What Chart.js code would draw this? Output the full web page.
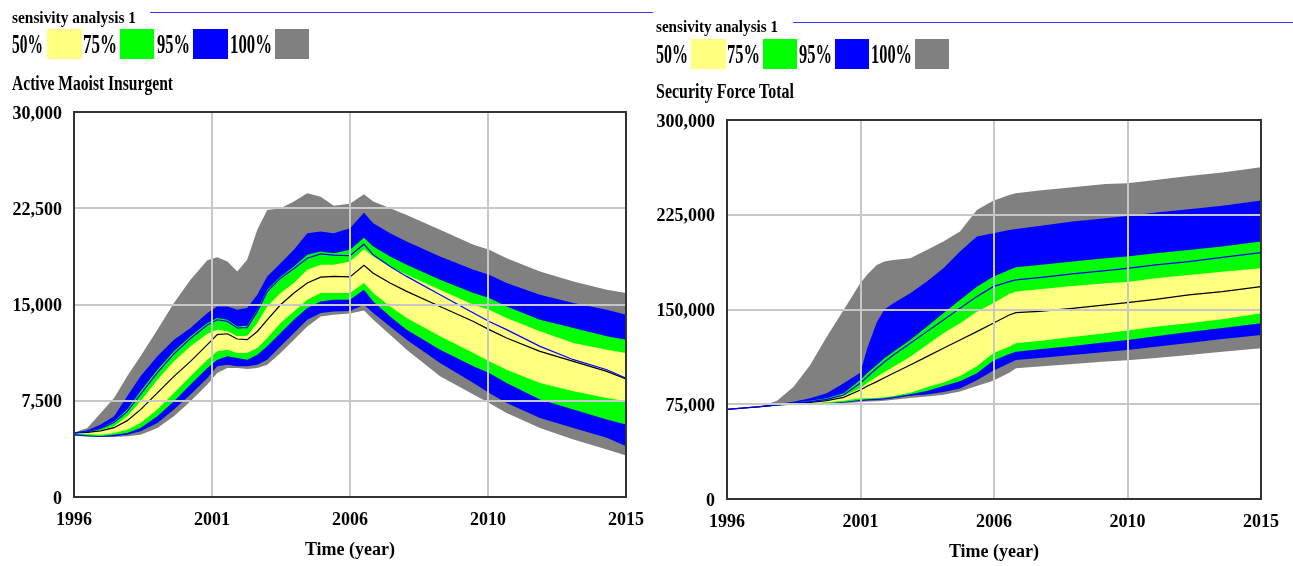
<!DOCTYPE html>
<html><head><meta charset="utf-8">
<script src="https://cdn.jsdelivr.net/npm/chart.js@4.4.1/dist/chart.umd.min.js"></script>
<style>
html,body{margin:0;padding:0;background:#fff;}
#wrap{position:relative;width:1293px;height:566px;overflow:hidden;background:#fff;}
canvas{position:absolute;top:0;}
.t{position:absolute;white-space:nowrap;font-family:"Liberation Serif","Times New Roman",serif;font-weight:bold;color:#000;transform-origin:0 0;line-height:1;}
.sw{position:absolute;}
.hl{position:absolute;height:1px;background:#3a3aff;}
</style></head><body>
<div id="wrap">
<canvas id="c1" width="660" height="566" style="left:0;width:660px;height:566px"></canvas>
<canvas id="c2" width="647" height="566" style="left:646px;width:647px;height:566px"></canvas>
</div>
<script>
// ---------- data: Active Maoist Insurgent ----------
const timeL = [1996, 1996.46, 1996.92, 1997.38, 1997.83, 1998.29, 1998.87, 1999.44, 2000.01, 2000.59, 2000.93, 2001.28, 2001.62, 2001.96, 2002.31, 2002.65, 2003.11, 2003.57, 2004.03, 2004.49, 2004.94, 2005.5, 2005.98, 2006.3, 2006.88, 2007.45, 2008.6, 2009.75, 2010.29, 2010.89, 2012.04, 2013.19, 2014.34, 2015];
const grayHiL = [5000, 5380, 6550, 7720, 9400, 10960, 13040, 15110, 16930, 18450, 18690, 18350, 17570, 18480, 20820, 22370, 22500, 23020, 23670, 23400, 22700, 22850, 23600, 23020, 22500, 21980, 20820, 19650, 19260, 18610, 17570, 16800, 16150, 15890];
const blueHiL = [5000, 5200, 5640, 6290, 7850, 9400, 10960, 12260, 13170, 14330, 14850, 14850, 14590, 14720, 15760, 17190, 18220, 19260, 20560, 20690, 20560, 20950, 22150, 21340, 20560, 19910, 18740, 17700, 17320, 16670, 15760, 15110, 14590, 14200];
const greenHiL = [5000, 5120, 5380, 5900, 6810, 8240, 9920, 11350, 12520, 13550, 13940, 13810, 13290, 13350, 14590, 16150, 17190, 17960, 18870, 19130, 19000, 19260, 20200, 19520, 18740, 18090, 16930, 15890, 15500, 14850, 13810, 13170, 12520, 12260];
const yellowHiL = [5000, 5080, 5200, 5510, 6290, 7460, 9140, 10570, 11740, 12720, 13040, 12910, 12520, 12570, 13550, 14850, 15890, 16670, 17700, 18090, 18090, 18350, 19300, 18740, 17960, 17320, 16150, 14980, 14590, 13940, 12910, 12000, 11480, 11220];
const medianL = [5000, 5040, 5150, 5400, 5950, 6810, 8110, 9400, 10570, 11870, 12650, 12720, 12310, 12260, 12900, 13810, 14980, 15890, 16670, 17130, 17190, 17150, 18050, 17440, 16670, 16020, 14850, 13680, 13040, 12390, 11350, 10570, 9790, 9200];
const baseL = [5000, 5100, 5350, 5800, 6650, 8000, 9700, 11150, 12350, 13400, 13810, 13680, 13170, 13200, 14460, 16000, 17050, 17800, 18610, 18950, 18850, 18800, 19700, 18870, 17960, 17190, 15760, 14330, 13680, 13040, 11740, 10700, 9920, 9270];
const yellowLoL = [4940, 4900, 4860, 4990, 5250, 5770, 6810, 8110, 9400, 10700, 11350, 11480, 11220, 11220, 11610, 12390, 13550, 14460, 15370, 15890, 15890, 15890, 16670, 15890, 14850, 13940, 12520, 11220, 10570, 9920, 8890, 8240, 7720, 7460];
const greenLoL = [4900, 4800, 4730, 4860, 4990, 5380, 6290, 7460, 8760, 10050, 10700, 10960, 10830, 10700, 11090, 11740, 12780, 13810, 14720, 15240, 15370, 15370, 16150, 15240, 14070, 13040, 11480, 10180, 9660, 8890, 7590, 6810, 6030, 5640];
const blueLoL = [4790, 4730, 4680, 4730, 4860, 5120, 5770, 6810, 7980, 9270, 10180, 10310, 10180, 10180, 10310, 10700, 11740, 12780, 13810, 14330, 14460, 14500, 14980, 14330, 13290, 12260, 10440, 8890, 8110, 7330, 6160, 5380, 4610, 3960];
const grayLoL = [4790, 4700, 4680, 4680, 4730, 4860, 5380, 6290, 7460, 8760, 9660, 10050, 10050, 9970, 10050, 10310, 11220, 12260, 13290, 14070, 14200, 14300, 14540, 13810, 12650, 11480, 9400, 7980, 7330, 6550, 5380, 4480, 3700, 3230];

// ---------- data: Security Force Total ----------
const timeR = [1996, 1997.18, 1997.78, 1998.37, 1998.96, 1999.55, 2000.15, 2000.74, 2001.0, 2001.33, 2001.6, 2001.92, 2002.52, 2003.11, 2003.7, 2004.29, 2004.89, 2005.47, 2006.04, 2006.28, 2007.11, 2008.29, 2009.47, 2010.24, 2011.25, 2012.43, 2013.62, 2015];
const grayHiR = [71000, 73100, 77850, 88930, 106090, 128520, 149630, 170740, 178000, 185260, 188000, 189220, 190540, 197130, 203730, 211650, 228800, 236000, 240680, 242000, 244110, 246750, 249390, 249910, 252550, 255720, 258360, 262580];
const blueHiR = [71000, 73100, 75210, 77060, 79700, 83660, 91570, 100000, 120000, 140000, 150000, 155000, 162830, 172070, 182630, 195820, 207700, 210330, 212970, 213760, 216140, 219570, 222200, 224050, 226700, 229300, 232200, 236190];
const greenHiR = [71000, 73100, 74700, 76270, 77850, 79700, 83660, 94210, 100000, 106090, 111500, 116640, 125880, 136430, 146990, 157540, 168100, 176020, 181300, 183410, 185260, 187900, 190540, 191860, 194500, 197130, 199770, 203730];
const yellowHiR = [71000, 73100, 74500, 76000, 77060, 78380, 81550, 87610, 92000, 96850, 100500, 104770, 112690, 121920, 131160, 139080, 148310, 155000, 162300, 164150, 166000, 168630, 170740, 171800, 174700, 177340, 179980, 182620];
const medianR = [71000, 73100, 74400, 75900, 76530, 77850, 80490, 86290, 89500, 92890, 96000, 99490, 106090, 112690, 119280, 125880, 132480, 139080, 145670, 147520, 148580, 150950, 153590, 155440, 158080, 161510, 164150, 168100];
const baseR = [71000, 73100, 74500, 76000, 77060, 78900, 82340, 91570, 97000, 103450, 108500, 114000, 123240, 132480, 141720, 150950, 160190, 168100, 172060, 173380, 175230, 178130, 180770, 182620, 185260, 187900, 191330, 195020];
const yellowLoR = [71000, 73000, 74200, 75500, 75740, 76530, 77850, 79700, 79700, 80000, 80500, 81500, 84200, 88400, 92300, 97400, 105000, 115300, 120600, 123200, 125000, 128300, 131200, 133300, 136400, 139100, 142200, 147000];
const greenLoR = [71000, 72900, 74100, 75100, 75250, 75740, 76800, 78380, 78900, 79400, 79800, 80800, 82900, 85500, 89500, 93300, 99500, 109500, 114800, 116600, 118500, 121200, 124000, 125900, 128800, 132200, 135400, 139100];
const blueLoR = [71000, 72800, 74000, 74900, 75000, 75200, 76300, 77590, 78000, 78400, 78800, 79800, 81700, 82800, 84700, 87500, 94000, 101600, 107400, 110000, 111700, 114000, 116300, 118000, 120600, 123500, 126700, 129840];
const grayLoR = [71000, 72700, 73900, 74600, 74680, 74900, 75740, 76800, 77100, 77400, 77700, 78500, 80000, 81200, 82600, 85000, 89500, 93700, 100000, 103400, 104900, 106900, 108800, 109800, 111700, 114000, 116500, 119280];

// ---------- ticks ----------
const xTickValues = [1996, 2000.75, 2005.5, 2010.25, 2015];
const xTickLabels = ['1996', '2001', '2006', '2010', '2015'];
const yTicksL = [0, 7500, 15000, 22500, 30000];
const yTicksR = [0, 75000, 150000, 225000, 300000];
const bandLabels = ['50%', '75%', '95%', '100%'];
const bandColors = ['#ffff80', '#00ff00', '#0000ff', '#808080'];

// ---------- header texts (HTML) ----------
const wrap = document.getElementById('wrap');
function addText(txt, x, top, w, fs) {
  const d = document.createElement('div');
  d.className = 't';
  d.textContent = txt;
  d.style.left = x + 'px';
  d.style.top = top + 'px';
  d.style.fontSize = fs + 'px';
  wrap.appendChild(d);
  const nat = d.getBoundingClientRect().width;
  d.style.transform = 'scaleX(' + (w / nat) + ')';
}
function addBox(cls, x, y, w, h, color) {
  const d = document.createElement('div');
  d.className = cls;
  d.style.left = x + 'px'; d.style.top = y + 'px';
  d.style.width = w + 'px'; d.style.height = h + 'px';
  if (color) d.style.background = color;
  wrap.appendChild(d);
}
function header(o) {
  addText('sensivity analysis 1', o.hx, o.hTop, o.hw, 17);
  addBox('hl', o.lineX0, o.lineY, o.lineX1 - o.lineX0, 1);
  bandLabels.forEach((lab, i) => {
    addText(lab, o.lx[i], o.lTop, o.lw[i], 27);
    addBox('sw', o.sx[i], o.sTop, o.sw[i], 30, bandColors[i]);
  });
  addText(o.title, o.hx, o.tTop, o.tw, 20);
}
header({hx: 12, hTop: 8.5, hw: 124, lineX0: 150, lineX1: 653, lineY: 12,
  lx: [12, 83, 157, 230], lw: [31, 34, 33, 42], lTop: 30.5,
  sx: [47, 120, 193, 275], sw: [35, 34, 35, 34], sTop: 29,
  title: 'Active Maoist Insurgent', tTop: 73, tw: 161});
header({hx: 656, hTop: 17.5, hw: 122, lineX0: 793, lineX1: 1293, lineY: 22,
  lx: [656, 727, 799, 871], lw: [32, 33, 33, 41], lTop: 40.5,
  sx: [691, 763, 835, 915], sw: [35, 34, 34, 34], sTop: 39,
  title: 'Security Force Total', tTop: 81, tw: 138});

// ---------- charts ----------
const FONT = '"Liberation Serif", "Times New Roman", serif';
const framePlugin = {
  id: 'frame',
  afterDraw(chart) {
    const a = chart.chartArea, ctx = chart.ctx;
    ctx.save();
    ctx.strokeStyle = '#333';
    ctx.lineWidth = 2;
    ctx.strokeRect(a.left, a.top, a.right - a.left, a.bottom - a.top);
    ctx.restore();
  }
};

function makeChart(id, t, s, yTicks, yMax, geo) {
  const pts = arr => t.map((x, i) => ({x: x, y: arr[i]}));
  const band = (arr, color, fill) => ({
    data: pts(arr), borderColor: 'rgba(0,0,0,0)', borderWidth: 0,
    backgroundColor: color, fill: fill ? '+1' : false
  });
  const datasets = [
    {data: pts(s.base), borderColor: '#0000ff', borderWidth: 1.2, fill: false},
    {data: pts(s.median), borderColor: '#000000', borderWidth: 1.2, fill: false},
    band(s.yHi, '#ffff80', true), band(s.yLo, '#ffff80', false),
    band(s.gHi, '#00ff00', true), band(s.gLo, '#00ff00', false),
    band(s.bHi, '#0000ff', true), band(s.bLo, '#0000ff', false),
    band(s.aHi, '#808080', true), band(s.aLo, '#808080', false)
  ];
  const tickFont = {family: FONT, size: 18, weight: 'bold'};
  return new Chart(document.getElementById(id), {
    type: 'line',
    data: {datasets: datasets},
    options: {
      responsive: false, animation: false,
      layout: {padding: {left: 0, right: geo.padRight, top: geo.padTop, bottom: 0}},
      elements: {point: {radius: 0}, line: {tension: 0}},
      plugins: {legend: {display: false}, tooltip: {enabled: false}, title: {display: false}},
      scales: {
        x: {
          type: 'linear', min: 1996, max: 2015,
          afterBuildTicks: sc => { sc.ticks = xTickValues.map(v => ({value: v})); },
          afterFit: sc => { sc.height = geo.xH; },
          grid: {color: '#c8c8c8', lineWidth: 2, drawTicks: false, z: 1},
          border: {display: false},
          ticks: {padding: geo.xPad, maxRotation: 0, autoSkip: false, color: '#000', font: tickFont,
                  callback: (v, i) => xTickLabels[i]},
          title: {display: true, text: 'Time (year)', color: '#000', font: tickFont,
                  padding: {top: 0, bottom: geo.titlePad}}
        },
        y: {
          type: 'linear', min: 0, max: yMax,
          afterBuildTicks: sc => { sc.ticks = yTicks.map(v => ({value: v})); },
          afterFit: sc => { sc.width = geo.yW; },
          grid: {color: '#c8c8c8', lineWidth: 2, drawTicks: false, z: 1},
          border: {display: false},
          ticks: {padding: 12, labelOffset: 2, color: '#000', font: tickFont,
                  callback: v => v.toLocaleString('en-US')}
        }
      }
    },
    plugins: [framePlugin]
  });
}

makeChart('c1', timeL, {base: baseL, median: medianL, yHi: yellowHiL, yLo: yellowLoL, gHi: greenHiL, gLo: greenLoL,
  bHi: blueHiL, bLo: blueLoL, aHi: grayHiL, aLo: grayLoL}, yTicksL, 30000,
  {padRight: 34, padTop: 112, xH: 69, yW: 74, xPad: 13, titlePad: 5});
makeChart('c2', timeR, {base: baseR, median: medianR, yHi: yellowHiR, yLo: yellowLoR, gHi: greenHiR, gLo: greenLoR,
  bHi: blueHiR, bLo: blueLoR, aHi: grayHiR, aLo: grayLoR}, yTicksR, 300000,
  {padRight: 32, padTop: 120, xH: 67, yW: 81, xPad: 13, titlePad: 3});
</script>
</body></html>
